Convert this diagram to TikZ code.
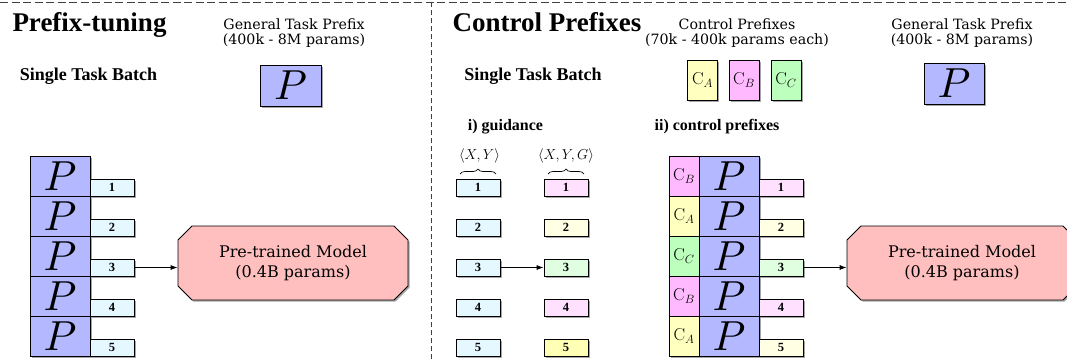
\documentclass[tikz,border=0pt]{standalone}
\usepackage{graphicx}
\usepackage[no-math]{fontspec}
\setmainfont{Liberation Serif}
\newfontfamily\lblfont{DejaVu Serif}
\usetikzlibrary{shapes.misc,shadows,arrows.meta,decorations.pathreplacing}
\definecolor{pcol}{HTML}{B3B8FF}
\definecolor{cA}{HTML}{FFFFBF}
\definecolor{cB}{HTML}{FFBAFF}
\definecolor{cC}{HTML}{BDFFBD}
\definecolor{nX}{HTML}{E6F8FF}
\definecolor{nA}{HTML}{FFFFE3}
\definecolor{nAs}{HTML}{FFFFB5}
\definecolor{nB}{HTML}{FFE0FF}
\definecolor{nC}{HTML}{E0FFE0}
\definecolor{modelcol}{HTML}{FFBFBF}
\newcommand{\myP}{\scalebox{4.2}{$P$}}
\begin{document}
\begin{tikzpicture}[x=1pt,y=-1pt,
 shad/.style={drop shadow={shadow xshift=1.5pt,shadow yshift=-1.5pt,opacity=0.35,fill=black}},
 pbox/.style={draw=black, line width=0.8pt, fill=pcol, minimum width=60pt, minimum height=40pt, inner sep=0pt, font=\normalsize, shad},
 cbox/.style={draw=black, line width=0.8pt, minimum width=30pt, minimum height=40pt, inner sep=0pt, font=\fontsize{18}{18}\selectfont, shad},
 nbox/.style={draw=black, line width=0.8pt, minimum width=44pt, minimum height=17pt, inner sep=0pt, font=\fontsize{12.5}{12.5}\selectfont\bfseries, shad},
 modelbox/.style={chamfered rectangle, chamfered rectangle xsep=7pt, chamfered rectangle ysep=7pt, draw=black, line width=0.8pt, fill=modelcol, minimum width=230pt, minimum height=74pt, inner sep=0pt, align=center, font=\lblfont\fontsize{16}{20}\selectfont, shad},
 arr/.style={-{Latex[length=7pt,width=5pt]}, line width=0.8pt},
 titletext/.style={anchor=base, font=\fontsize{27}{27}\selectfont\bfseries},
 subtext/.style={anchor=base, font=\fontsize{18}{18}\selectfont\bfseries},
 smalltext/.style={anchor=base, font=\fontsize{16}{16}\selectfont\bfseries},
 lbltext/.style={anchor=base, inner sep=1pt, font=\lblfont\fontsize{14.2}{14.2}\selectfont},
 septext/.style={draw=black!75, line width=0.9pt}
]
\useasboundingbox (0,0) rectangle (1067,360);
\clip (0,0) rectangle (1067,360);
% separators
\draw[septext, dash pattern=on 8pt off 3.5pt] (0,2) -- (1067,2);
\draw[septext, dash pattern=on 5pt off 3pt] (431,2) -- (431,360);

% ---------------- left panel
\node[titletext] (t1) at (89.5,31) {Prefix-tuning};
\node[lbltext] (g1a) at (294,29) {General Task Prefix};
\node[lbltext] (g1b) at (294,44) {(400k - 8M params)};
\node[subtext] (s1) at (88.5,80) {Single Task Batch};
\node[pbox, minimum width=61pt, minimum height=41pt] (lP) at (290.5,85.5) {\myP};

\foreach \i in {1,...,5} {
  \node[pbox] (lp\i) at (60,{136+40*\i}) {\myP};
}
\foreach \i in {1,...,5} {
  \node[nbox, fill=nX] (ln\i) at (112,{147.5+40*\i}) {\i};
}
\node[modelbox] (lm) at (293,263) {Pre-trained Model\\(0.4B params)};
\draw[arr] (ln3.east) -- (ln3.east -| lm.west);

% ---------------- right panel
\node[titletext] (t2) at (547,31) {Control Prefixes};
\node[lbltext] (c2a) at (737,29) {Control Prefixes};
\node[lbltext] (c2b) at (737,44) {(70k - 400k params each)};
\node[lbltext] (g2a) at (962,29) {General Task Prefix};
\node[lbltext] (g2b) at (962,44) {(400k - 8M params)};
\node[subtext] (s2) at (533,80) {Single Task Batch};

\node[cbox, fill=cA] (tcA) at (702.5,80) {$\mathrm{C}_A$};
\node[cbox, fill=cB] (tcB) at (744,80) {$\mathrm{C}_B$};
\node[cbox, fill=cC] (tcC) at (786,80) {$\mathrm{C}_C$};
\node[pbox, minimum height=41pt] (rP) at (954,83.5) {\myP};

\node[smalltext] (gd) at (505.5,130) {i) guidance};
\node[smalltext] (cp) at (717,130) {ii) control prefixes};

\node[anchor=base, font=\fontsize{15}{15}\selectfont] (xy) at (479.5,159) {$\langle X,Y\rangle$};
\node[anchor=base, font=\fontsize{15}{15}\selectfont] (xyg) at (566,159) {$\langle X,Y,G\rangle$};
\draw[line width=0.7pt, decorate, decoration={brace, amplitude=5pt}] (460,174) -- (496,174);
\draw[line width=0.7pt, decorate, decoration={brace, amplitude=5pt}] (548,174) -- (584,174);

\foreach \i in {1,...,5} {
  \node[nbox, fill=nX] (ga\i) at (478,{147.5+40*\i}) {\i};
}
\foreach \i/\c in {1/nB,2/nA,3/nC,4/nB,5/nAs} {
  \node[nbox, fill=\c] (gb\i) at (566,{147.5+40*\i}) {\i};
}
\draw[arr] (ga3.east) -- (gb3.west);

\foreach \i/\c in {1/B,2/A,3/C,4/B,5/A} {
  \node[cbox, fill=c\c] (rc\i) at (684,{136+40*\i}) {$\mathrm{C}_\c$};
}
\foreach \i in {1,...,5} {
  \node[pbox] (rp\i) at (729,{136+40*\i}) {\myP};
}
\foreach \i/\c in {1/B,2/A,3/C,4/B,5/A} {
  \node[nbox, fill=n\c] (rn\i) at (781,{147.5+40*\i}) {\i};
}
\node[modelbox] (rm) at (962,263) {Pre-trained Model\\(0.4B params)};
\draw[arr] (rn3.east) -- (rn3.east -| rm.west);
\end{tikzpicture}
\end{document}
